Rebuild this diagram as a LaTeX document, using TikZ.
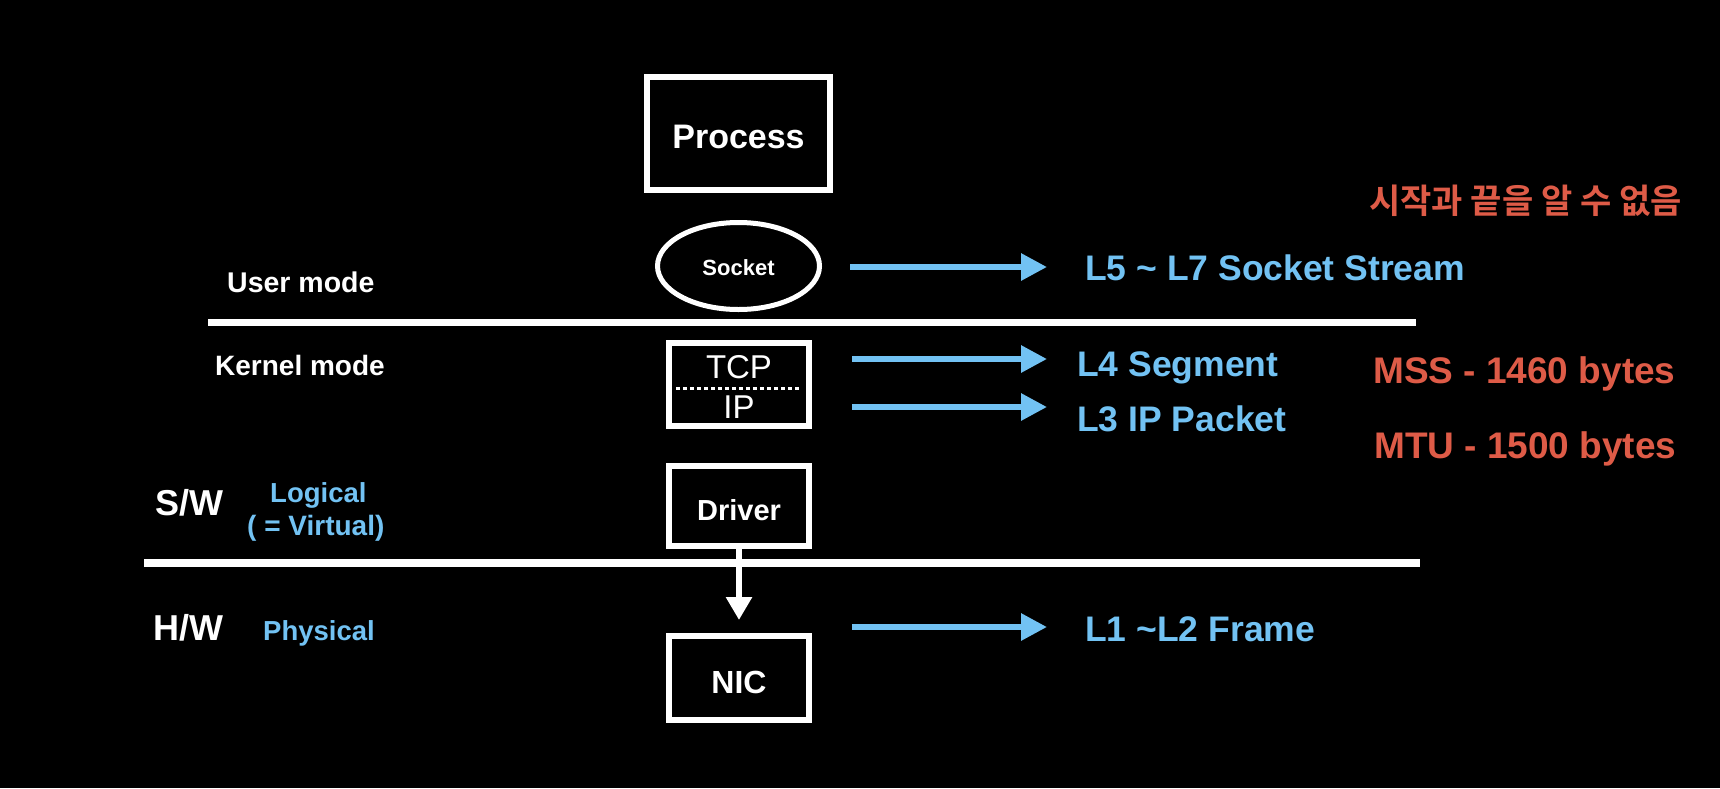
\documentclass[tikz,border=0pt]{standalone}
\usepackage{fontspec}
\setmainfont{Liberation Sans}
\newfontfamily\krfont{Noto Sans CJK KR Bold}
\usetikzlibrary{arrows.meta,shapes.geometric}
\definecolor{lblue}{HTML}{72C2F3}
\definecolor{lred}{HTML}{DE5B47}
\tikzset{
  boxnode/.style={draw=white, line width=6pt, text=white, inner sep=0pt, text depth=0pt, font=\bfseries},
  wlabel/.style={text=white, inner sep=0pt, anchor=base west, font=\bfseries},
  blabel/.style={text=lblue, inner sep=0pt, anchor=base west, font=\bfseries\fontsize{35.5}{40}\selectfont},
  rlabel/.style={text=lred, inner sep=0pt, anchor=base west, font=\bfseries\fontsize{37}{42}\selectfont},
  barrow/.style={draw=lblue, line width=6pt, -{Triangle[length=26pt,width=26pt]}},
  sepline/.style={draw=white, line width=7pt},
}
\begin{document}
\begin{tikzpicture}[x=1pt,y=-1pt]
\fill[black] (0,0) rectangle (1720,788);
\useasboundingbox (0,0) rectangle (1720,788);

% central stack
\node[boxnode, minimum width=183pt, minimum height=113pt, text height=29pt,
      font=\bfseries\fontsize{34}{40}\selectfont] (process) at (738.5,133.5) {Process};
\node[boxnode, ellipse, line width=5pt, minimum width=162pt, minimum height=87pt, text height=18pt,
      font=\bfseries\fontsize{22}{26}\selectfont] (socket) at (738.5,266) {Socket};
\node[boxnode, minimum width=140pt, minimum height=83pt] (tcpip) at (739,384.5) {};
\node[text=white, inner sep=0pt, anchor=base, font=\fontsize{33}{38}\selectfont] (tcp) at (739,378) {TCP};
\node[text=white, inner sep=0pt, anchor=base, font=\fontsize{33}{38}\selectfont] (ip) at (739,418) {IP};
\draw[white, line width=3pt, dash pattern=on 4pt off 3pt] (676,388) -- (800,388);
\node[boxnode, minimum width=140pt, minimum height=80pt, text height=29pt,
      font=\bfseries\fontsize{29}{34}\selectfont] (driver) at (739,506) {Driver};
\node[boxnode, minimum width=140pt, minimum height=84pt, text height=31pt,
      font=\bfseries\fontsize{32}{38}\selectfont] (nic) at (739,678) {NIC};

\draw[white, line width=6pt, shorten >=13pt, -{Triangle[length=23pt,width=25pt]}] (driver.south) -- (nic.north);

% separator lines
\coordinate (l1a) at (208,322); \coordinate (l1b) at (1416,322);
\coordinate (l2a) at (144,563); \coordinate (l2b) at (1420,563);
\draw[sepline] (l1a) -- (l1b);
\draw[sepline, line width=8pt] (l2a) -- (l2b);

% left labels
\node[wlabel, font=\bfseries\fontsize{28.5}{32}\selectfont] (user) at (227,292) {User mode};
\node[wlabel, font=\bfseries\fontsize{28}{32}\selectfont] (kernel) at (215,375) {Kernel mode};
\node[wlabel, font=\bfseries\fontsize{36}{40}\selectfont] (sw) at (155,515) {S/W};
\node[wlabel, text=lblue, font=\bfseries\fontsize{27.5}{32}\selectfont] (logical) at (270,502) {Logical};
\node[wlabel, text=lblue, font=\bfseries\fontsize{28}{32}\selectfont] (virtual) at (247,535) {( = Virtual)};
\node[wlabel, font=\bfseries\fontsize{36}{40}\selectfont] (hw) at (153,640) {H/W};
\node[wlabel, text=lblue, font=\bfseries\fontsize{27.5}{32}\selectfont] (physical) at (263,640) {Physical};

% blue arrows and labels
\coordinate (a1s) at (850,267); \coordinate (a1e) at (1047,267);
\coordinate (a2s) at (852,359); \coordinate (a2e) at (1047,359);
\coordinate (a3s) at (852,407); \coordinate (a3e) at (1047,407);
\coordinate (a4s) at (852,627); \coordinate (a4e) at (1047,627);
\draw[barrow] (a1s) -- (a1e);
\draw[barrow] (a2s) -- (a2e);
\draw[barrow] (a3s) -- (a3e);
\draw[barrow] (a4s) -- (a4e);
\node[blabel] (l57) at (1085,280) {L5 \textasciitilde{} L7 Socket Stream};
\node[blabel] (l4) at (1077,376) {L4 Segment};
\node[blabel] (l3) at (1077,431) {L3 IP Packet};
\node[blabel] (l12) at (1085,641) {L1 \textasciitilde{}L2 Frame};

% red notes
\node[text=lred, inner sep=0pt, anchor=west, font=\krfont\fontsize{34}{40}\selectfont] (kr) at (1369,201) {시작과 끝을 알 수 없음};
\node[rlabel] (mss) at (1373,383) {MSS - 1460 bytes};
\node[rlabel] (mtu) at (1374,458) {MTU - 1500 bytes};
\end{tikzpicture}
\end{document}
